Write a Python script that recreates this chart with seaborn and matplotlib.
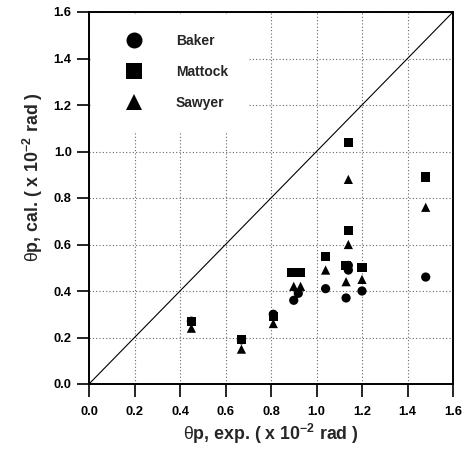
import matplotlib
matplotlib.use("Agg")
import matplotlib.pyplot as plt
import seaborn as sns
import pandas as pd
from matplotlib.lines import Line2D

# Data
x_exp   = [0.45, 0.67, 0.81, 0.90, 0.92, 1.04, 1.13, 1.14, 1.14, 1.20, 1.48]
baker   = [0.27, 0.19, 0.30, 0.36, 0.39, 0.41, 0.37, 0.51, 0.49, 0.40, 0.46]
mattock = [0.27, 0.19, 0.29, 0.48, 0.48, 0.55, 0.51, 1.04, 0.66, 0.50, 0.89]
sawyer  = [0.24, 0.15, 0.26, 0.42, 0.42, 0.49, 0.44, 0.88, 0.60, 0.45, 0.76]
x_sawyer = [0.45, 0.67, 0.81, 0.90, 0.93, 1.04, 1.13, 1.14, 1.14, 1.20, 1.48]
x_mattock = [0.45, 0.67, 0.81, 0.89, 0.93, 1.04, 1.13, 1.14, 1.14, 1.20, 1.48]
series_names = ["Baker", "Mattock", "Sawyer"]
series_markers = ["o", "s", "^"]
ticks = [0.0, 0.2, 0.4, 0.6, 0.8, 1.0, 1.2, 1.4, 1.6]

df = pd.concat([
    pd.DataFrame({"x": x_exp, "y": baker, "set": "Baker"}),
    pd.DataFrame({"x": x_mattock, "y": mattock, "set": "Mattock"}),
    pd.DataFrame({"x": x_sawyer, "y": sawyer, "set": "Sawyer"}),
])

sns.set_style("white")
plt.rcParams["font.family"] = ["Liberation Sans", "DejaVu Sans"]
plt.rcParams["mathtext.fontset"] = "custom"
plt.rcParams["mathtext.rm"] = "Liberation Sans"
plt.rcParams["mathtext.bf"] = "Liberation Sans:bold"
plt.rcParams["mathtext.it"] = "Liberation Sans:italic"

fig = plt.figure(figsize=(4.66, 4.54), dpi=100)
ax = fig.add_axes([89/466, 70/454, 364/466, 372/454])

ax.set_xlim(0, 1.6)
ax.set_ylim(0, 1.6)
ax.set_xticks(ticks)
ax.set_yticks(ticks)
ax.set_xticklabels([f"{t:.1f}" for t in ticks], fontweight="bold", fontsize=9.3)
ax.set_yticklabels([f"{t:.1f}" for t in ticks], fontweight="bold", fontsize=9.3)

ax.grid(True, color="#666666", linestyle=(0, (1.0, 2.0)), linewidth=0.8)
ax.set_axisbelow(True)

ax.plot([0, 1.6], [0, 1.6], color="black", linewidth=0.8, zorder=2)

sns.scatterplot(data=df, x="x", y="y", style="set",
                markers=dict(zip(series_names, series_markers)),
                color="black", s=44, linewidth=0, legend=False, ax=ax, zorder=3)

for sp in ax.spines.values():
    sp.set_color("black")
    sp.set_linewidth(1.4)
ax.tick_params(axis="both", which="both", direction="out", length=9, width=1.2,
               color="black", labelcolor="black", bottom=True, left=True,
               top=False, right=False)
ax.tick_params(axis="x", pad=7)
ax.tick_params(axis="y", pad=3.5)

ax.set_xlabel(r"$\mathrm{\theta}$p, exp. ( x 10$^{\mathbf{-2}}$ rad )",
              fontsize=12.8, fontweight="bold", labelpad=3)
ax.set_ylabel(r"$\mathrm{\theta}$p, cal. ( x 10$^{\mathbf{-2}}$ rad )",
              fontsize=12.8, fontweight="bold")
ax.yaxis.set_label_coords(-0.12, 0.555)

handles = [Line2D([], [], linestyle="none", marker=m, color="black",
                  markersize=11.5, markeredgewidth=0) for m in series_markers]
leg = ax.legend(handles, series_names, loc="upper left", bbox_to_anchor=(0, 1),
                borderaxespad=0.15, frameon=True, fancybox=False,
                facecolor="white", edgecolor="white", framealpha=1,
                prop={"weight": "bold", "size": 10},
                borderpad=1.4, handlelength=3.4, handletextpad=1.3,
                labelspacing=1.25)
leg.set_zorder(4)

fig.savefig("out.png", dpi=100)
